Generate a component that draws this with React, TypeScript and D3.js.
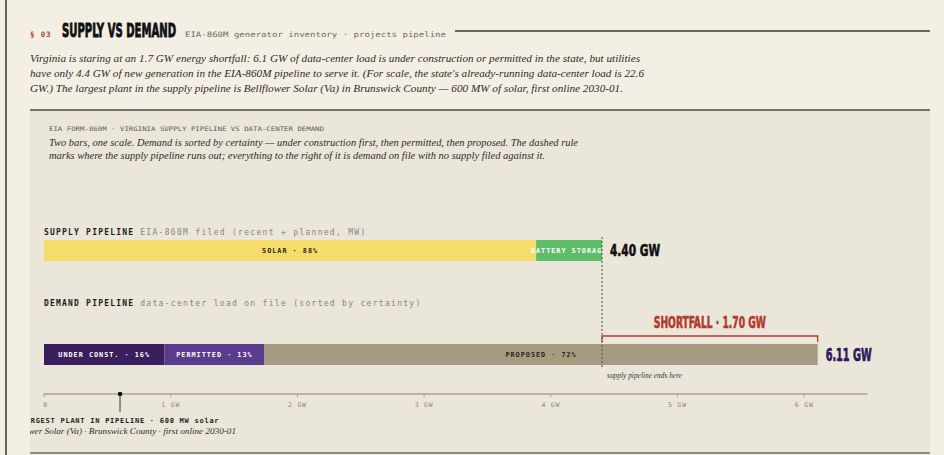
import React from "react";
import * as d3 from "d3";

const supplyCategories = ["Solar", "Battery storage"];
const supplyValues = [3.884, 0.52];
const supplyLabels = ["SOLAR · 88%", "BATTERY STORAGE"];
const demandCategories = ["Under const.", "Permitted", "Proposed"];
const demandValues = [0.95, 0.79, 4.366];
const demandLabels = ["UNDER CONST. · 16%", "PERMITTED · 13%", "PROPOSED · 72%"];
const tickValues = [0, 1, 2, 3, 4, 5, 6];
const tickLabels = ["0", "1 GW", "2 GW", "3 GW", "4 GW", "5 GW", "6 GW"];
const largestPlantGW = [0.6];

const supplyColors = ["#f6dc68", "#5dbd6b"];
const supplyTextColors = ["#2a2418", "#ffffff"];
const demandColors = ["#3a1e5e", "#5b3b8d", "#a59b80"];
const demandTextColors = ["#ffffff", "#ffffff", "#2a2418"];

const MONO = "'DejaVu Sans Mono', 'Liberation Mono', monospace";
const COND = "'Liberation Sans Narrow', 'DejaVu Sans Condensed', sans-serif";
const SERIF = "'Liberation Serif', 'DejaVu Serif', serif";

const paragraph = [
  "Virginia is staring at an 1.7 GW energy shortfall: 6.1 GW of data-center load is under construction or permitted in the state, but utilities",
  "have only 4.4 GW of new generation in the EIA-860M pipeline to serve it. (For scale, the state's already-running data-center load is 22.6",
  "GW.) The largest plant in the supply pipeline is Bellflower Solar (Va) in Brunswick County — 600 MW of solar, first online 2030-01.",
];
const paragraphWidths = [610, 614, 593];
const note = [
  "Two bars, one scale. Demand is sorted by certainty — under construction first, then permitted, then proposed. The dashed rule",
  "marks where the supply pipeline runs out; everything to the right of it is demand on file with no supply filed against it.",
];
const noteWidths = [529, 496];

export default function App() {
  const x = d3.scaleLinear().domain([0, 6.5]).range([44, 867.6]);
  const supplyTotal = d3.sum(supplyValues);
  const demandTotal = d3.sum(demandValues);
  const supplyStarts = d3.cumsum([0, ...supplyValues]);
  const demandStarts = d3.cumsum([0, ...demandValues]);
  const fmt = d3.format(".2f");

  const sY = 240, dY = 344, bh = 21;
  const axisY = 394;
  const xs = x(supplyTotal);
  const xd = x(demandTotal);

  const supplyTotalLabel = `${fmt(supplyTotal)} GW`;
  const demandTotalLabel = `${fmt(demandTotal)} GW`;
  const shortfallLabel = `SHORTFALL · ${fmt(demandTotal - supplyTotal)} GW`;

  return (
    <svg width={944} height={455} style={{ position: "absolute", left: 0, top: 0 }}>
      <defs>
        <clipPath id="panelClip">
          <rect x={30} y={110} width={900} height={345} />
        </clipPath>
        <clipPath id="supplyClip">
          <rect x={x(0)} y={sY} width={xs - x(0)} height={bh} />
        </clipPath>
        <clipPath id="demandClip">
          <rect x={x(0)} y={dY} width={xd - x(0)} height={bh} />
        </clipPath>
      </defs>
      <rect x={0} y={0} width={944} height={455} fill="#f3efe4" />
      <line x1={6} x2={6} y1={0} y2={455} stroke="#3a3632" strokeWidth={1.5} />

      {/* header */}
      <text x={30} y={37} fontFamily={MONO} fontSize={7.5} fontWeight="bold" fill="#b23a2e" letterSpacing={0.8}>§ 03</text>
      <g transform="translate(62,37) scale(1,1.4)">
        <text x={0} y={0} fontFamily={COND} fontSize={13.5} fontWeight="bold" fill="#111" stroke="#111" strokeWidth={0.6} textLength={114} lengthAdjust="spacingAndGlyphs">SUPPLY VS DEMAND</text>
      </g>
      <text x={185} y={37} fontFamily={MONO} fontSize={7.5} fill="#6e6a62" textLength={261} lengthAdjust="spacingAndGlyphs">EIA-860M generator inventory · projects pipeline</text>
      <line x1={455} x2={930} y1={31} y2={31} stroke="#3d3a34" strokeWidth={1.3} />

      {paragraph.map((t, i) => (
        <text key={i} x={30} y={62 + i * 15} fontFamily={SERIF} fontStyle="italic" fontSize={11.2} fill="#2f2c28" textLength={paragraphWidths[i]} lengthAdjust="spacingAndGlyphs">{t}</text>
      ))}

      {/* panel */}
      <rect x={30} y={110} width={900} height={343} fill="#ebe6da" />
      <line x1={30} x2={930} y1={110} y2={110} stroke="#4a4740" strokeWidth={1.5} />
      <line x1={30} x2={930} y1={453} y2={453} stroke="#6f6b62" strokeWidth={1.5} />

      <g clipPath="url(#panelClip)">
        <text x={49} y={131} fontFamily={MONO} fontSize={6.2} fill="#5e5a52" textLength={275} lengthAdjust="spacingAndGlyphs">EIA FORM-860M · VIRGINIA SUPPLY PIPELINE VS DATA-CENTER DEMAND</text>
        {note.map((t, i) => (
          <text key={i} x={49} y={146 + i * 13} fontFamily={SERIF} fontStyle="italic" fontSize={9.6} fill="#2f2c28" textLength={noteWidths[i]} lengthAdjust="spacingAndGlyphs">{t}</text>
        ))}

        {/* supply */}
        <text x={44} y={235} fontFamily={MONO} fontSize={8} fill="#1e1c19">
          <tspan fontWeight="bold" letterSpacing={1.2}>SUPPLY PIPELINE</tspan>
          <tspan dx={6} fill="#8a857b" letterSpacing={1.3}>EIA-860M filed (recent + planned, MW)</tspan>
        </text>
        {supplyValues.map((v, i) => (
          <rect key={supplyCategories[i]} x={x(supplyStarts[i])} y={sY} width={x(supplyStarts[i] + v) - x(supplyStarts[i])} height={bh} fill={supplyColors[i]} />
        ))}
        <g clipPath="url(#supplyClip)">
          {supplyValues.map((v, i) => (
            <text key={i} x={x(supplyStarts[i] + v / 2)} y={sY + bh / 2 + 2.5} textAnchor="middle" fontFamily={MONO} fontSize={6.8} fontWeight="bold" letterSpacing={1} fill={supplyTextColors[i]}>{supplyLabels[i]}</text>
          ))}
        </g>
        <text x={xs + 8} y={sY + bh / 2 + 5.5} fontFamily={COND} fontSize={16} fontWeight="bold" fill="#111" stroke="#111" strokeWidth={0.6} textLength={50} lengthAdjust="spacingAndGlyphs">{supplyTotalLabel}</text>

        {/* demand */}
        <text x={44} y={306} fontFamily={MONO} fontSize={8} fill="#1e1c19">
          <tspan fontWeight="bold" letterSpacing={1.2}>DEMAND PIPELINE</tspan>
          <tspan dx={6} fill="#8a857b" letterSpacing={1.3}>data-center load on file (sorted by certainty)</tspan>
        </text>
        {demandValues.map((v, i) => (
          <rect key={demandCategories[i]} x={x(demandStarts[i])} y={dY} width={x(demandStarts[i] + v) - x(demandStarts[i])} height={bh} fill={demandColors[i]} />
        ))}
        <g clipPath="url(#demandClip)">
          {demandValues.map((v, i) => (
            <text key={i} x={x(demandStarts[i] + v / 2)} y={dY + bh / 2 + 2.5} textAnchor="middle" fontFamily={MONO} fontSize={6.8} fontWeight="bold" letterSpacing={1} fill={demandTextColors[i]}>{demandLabels[i]}</text>
          ))}
        </g>
        <text x={xd + 8} y={dY + bh / 2 + 6.5} fontFamily={COND} fontSize={18} fontWeight="bold" fill="#2d1a58" stroke="#2d1a58" strokeWidth={0.7} textLength={46} lengthAdjust="spacingAndGlyphs">{demandTotalLabel}</text>

        {/* shortfall bracket */}
        <path d={`M${xs},342 V336 H${xd} V342`} fill="none" stroke="#b23a2e" strokeWidth={1.3} />
        <text x={(xs + xd) / 2} y={328} textAnchor="middle" fontFamily={COND} fontSize={16} fontWeight="bold" fill="#b23a2e" stroke="#b23a2e" strokeWidth={0.6} textLength={112} lengthAdjust="spacingAndGlyphs">{shortfallLabel}</text>

        {/* dashed rule */}
        <line x1={xs} x2={xs} y1={237} y2={369} stroke="#55524c" strokeWidth={1} strokeDasharray="2,2" />
        <text x={xs + 5} y={378} fontFamily={SERIF} fontStyle="italic" fontSize={7.4} fill="#3a3630">supply pipeline ends here</text>

        {/* axis */}
        <line x1={x(0)} x2={x(6.5)} y1={axisY} y2={axisY} stroke="#a8a396" strokeWidth={1.5} />
        {tickValues.map((t, i) => (
          <g key={t}>
            <line x1={x(t)} x2={x(t)} y1={axisY - 1} y2={axisY + 3} stroke="#a8a396" strokeWidth={1} />
            <text x={x(t) + (i === 0 ? 1.5 : 0)} y={406.5} textAnchor="middle" fontFamily={MONO} fontSize={6.5} fill="#8e897e" letterSpacing={0.8}>{tickLabels[i]}</text>
          </g>
        ))}

        {/* largest plant marker */}
        {largestPlantGW.map((g) => (
          <g key={g}>
            <line x1={x(g)} x2={x(g)} y1={axisY} y2={412} stroke="#3a3630" strokeWidth={1} />
            <circle cx={x(g)} cy={axisY} r={2.3} fill="#111" />
            <text x={x(g)} y={423} textAnchor="middle" fontFamily={MONO} fontSize={7} fontWeight="bold" fill="#1e1c19" letterSpacing={0.75}>LARGEST PLANT IN PIPELINE · 600 MW solar</text>
            <text x={x(g)} y={434} textAnchor="middle" fontFamily={SERIF} fontStyle="italic" fontSize={8} fill="#2f2c28" textLength={232} lengthAdjust="spacingAndGlyphs">Bellflower Solar (Va) · Brunswick County · first online 2030-01</text>
          </g>
        ))}
      </g>
    </svg>
  );
}
